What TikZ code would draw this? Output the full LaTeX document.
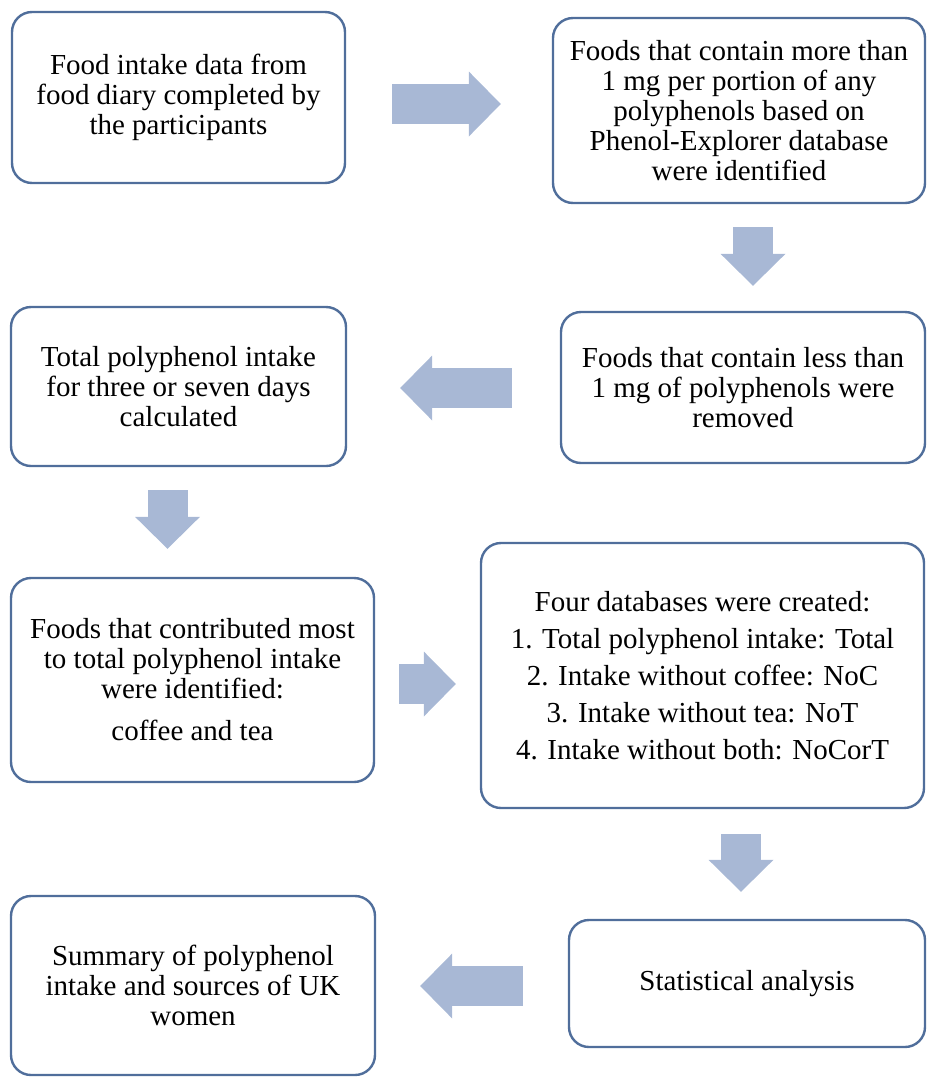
\documentclass[tikz,border=0pt]{standalone}
\usepackage{fontspec}
\setmainfont{Liberation Serif}
\usetikzlibrary{calc,arrows.meta}
\definecolor{boxblue}{RGB}{80,110,155}
\definecolor{arrowblue}{RGB}{168,184,213}

\begin{document}
\begin{tikzpicture}[
    x=0.5pt, y=-0.5pt,
    font=\fontsize{14.5}{15}\selectfont,
    box/.style={draw=boxblue, line width=1.2pt, rounded corners=10pt,
      align=center, inner sep=0pt},
    flow/.style={draw=arrowblue, line width=20pt,
      -{Triangle[length=16pt, width=32.5pt, line width=0pt]}}
  ]
  \useasboundingbox (0,0) rectangle (927,1077);

  % left column
  \node[box, minimum width=166.5pt, minimum height=85.5pt] (diary) at (178.5,97.5)
    {Food intake data from\\food diary completed by\\the participants};
  \node[box, minimum width=167.5pt, minimum height=79.5pt] (total) at (178.5,386.5)
    {Total polyphenol intake\\for three or seven days\\calculated};
  \node[box, minimum width=181.5pt, minimum height=102pt] (contrib) at (192.5,680)
    {Foods that contributed most\\to total polyphenol intake\\were identified:\\[6pt]coffee and tea};
  \node[box, minimum width=182pt, minimum height=89.5pt] (summary) at (193,985.5)
    {Summary of polyphenol\\intake and sources of UK\\women};

  % right column
  \node[box, minimum width=186pt, minimum height=92.5pt] (phenol) at (739,110.5)
    {Foods that contain more than\\1 mg per portion of any\\polyphenols based on\\Phenol-Explorer database\\were identified};
  \node[box, minimum width=182pt, minimum height=75.5pt] (removed) at (743,387.5)
    {Foods that contain less than\\1 mg of polyphenols were\\removed};
  \node[box, minimum width=221.5pt, minimum height=132.5pt] (dbases) at (702.5,675.5)
    {Four databases were created:\\[3.5pt]
     1. Total polyphenol intake: Total\\[3.5pt]
     2. Intake without coffee: NoC\\[3.5pt]
     3. Intake without tea: NoT\\[3.5pt]
     4. Intake without both: NoCorT};
  \node[box, minimum width=178pt, minimum height=63.5pt] (stats) at (747,983.5)
    {Statistical analysis};

  % arrows
  \draw[flow] ($(diary.east)+(46,6.5)$) -- ($(phenol.west)+(-51,-6.5)$);
  \draw[flow] ($(phenol.south)+(14,23)$) -- ($(removed.north)+(10,-25)$);
  \draw[flow] ($(removed.west)+(-48,0.5)$) -- ($(total.east)+(53,1.5)$);
  \draw[flow] ($(total.south)+(-11,23)$) -- ($(contrib.north)+(-25,-28)$);
  \draw[flow] ($(contrib.east)+(24,4)$) -- ($(dbases.west)+(-24,8.5)$);
  \draw[flow] ($(dbases.south)+(38.5,25)$) -- ($(stats.north)+(-6,-27)$);
  \draw[flow] ($(stats.west)+(-45,2.5)$) -- ($(summary.east)+(44,0.5)$);
\end{tikzpicture}
\end{document}
